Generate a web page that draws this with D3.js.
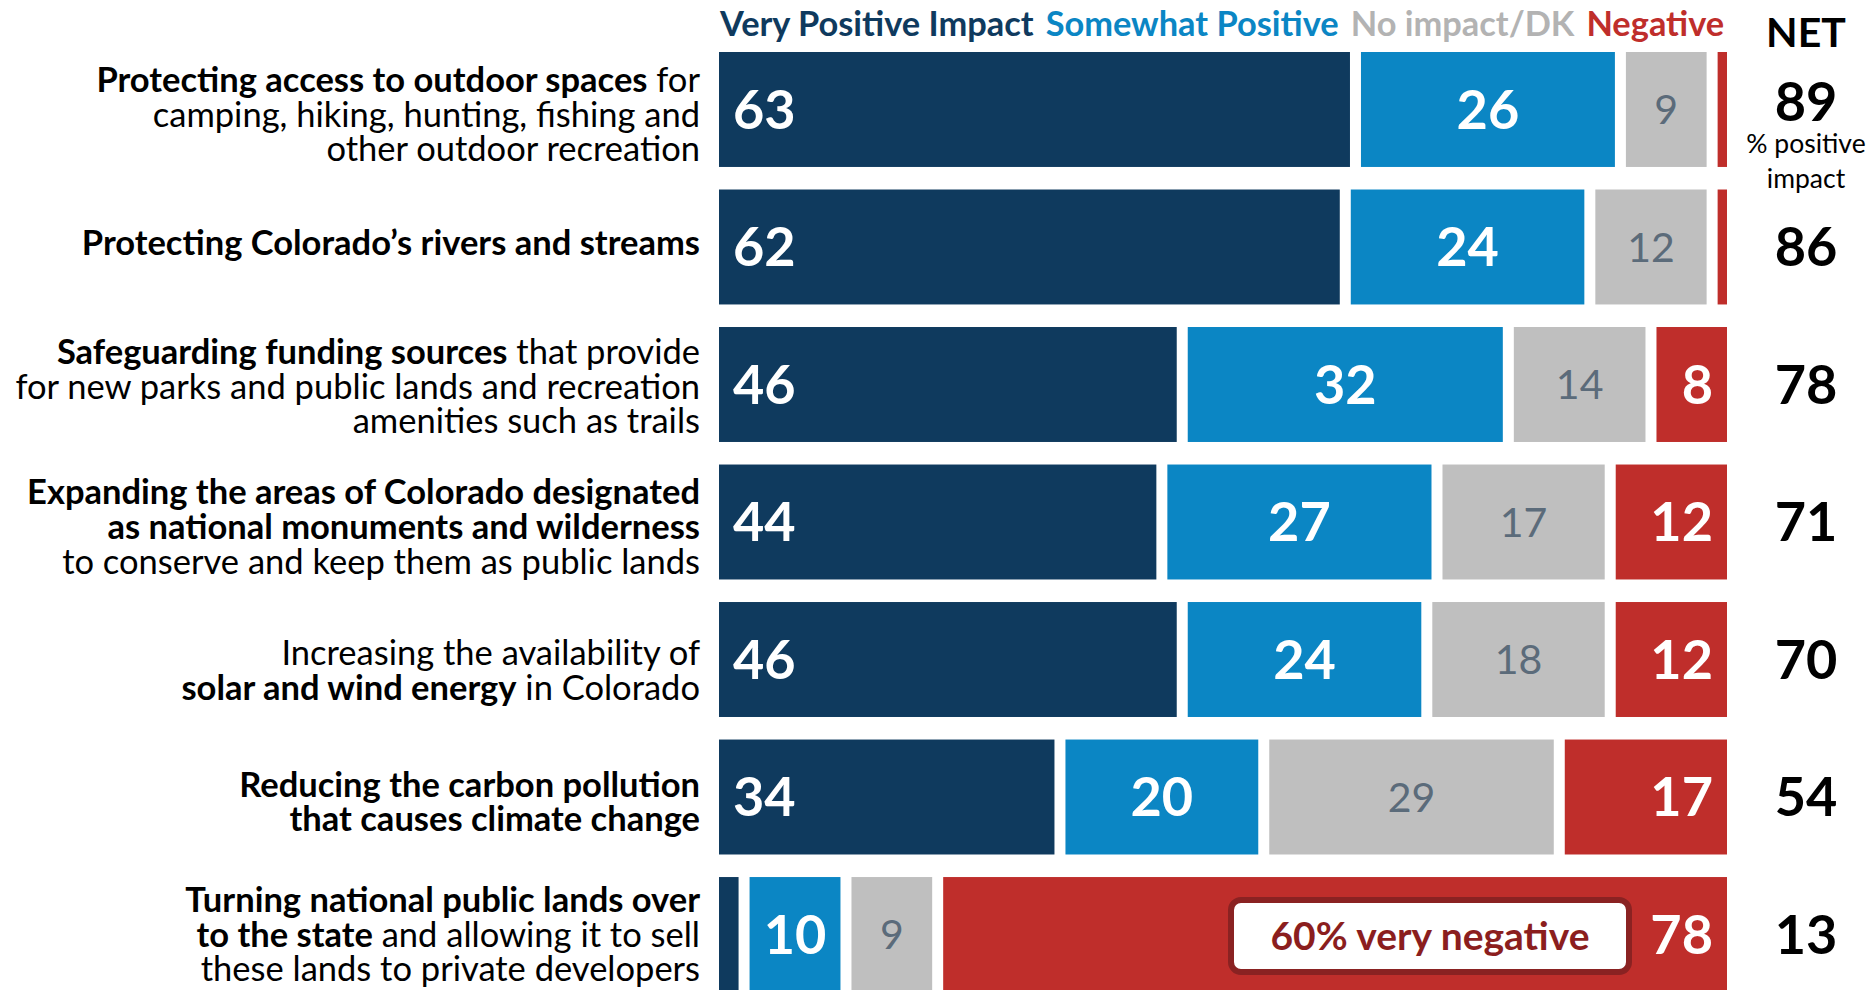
<!DOCTYPE html>
<html lang="en">
<head>
<meta charset="UTF-8">
<title>Colorado public lands – impact</title>
<script src="https://d3js.org/d3.v7.min.js"></script>
<style>
  body { margin: 0; background: #fff; }
  svg { display: block; font-family: Lato, "Open Sans", sans-serif; }
</style>
</head>
<body>
<div id="chart"></div>
<script>
// data
const seriesNames = ["Very Positive Impact", "Somewhat Positive", "No impact/DK", "Negative"];
const seriesColors = ["#0f3a5e", "#0b86c4", "#bfbfbf", "#bf2e2b"];
const legendColors = ["#0f3a5e", "#0b86c4", "#b3b3b3", "#bf2e2b"];

// each category: lines of [text, bold]
const categories = [
  [[["Protecting access to outdoor spaces", true], [" for", false]],
   [["camping, hiking, hunting, fishing and", false]],
   [["other outdoor recreation", false]]],
  [[["Protecting Colorado\u2019s rivers and streams", true]]],
  [[["Safeguarding funding sources", true], [" that provide", false]],
   [["for new parks and public lands and recreation", false]],
   [["amenities such as trails", false]]],
  [[["Expanding the areas of Colorado designated", true]],
   [["as national monuments and wilderness", true]],
   [["to conserve and keep them as public lands", false]]],
  [[["Increasing the availability of", false]],
   [["solar and wind energy", true], [" in Colorado", false]]],
  [[["Reducing the carbon pollution", true]],
   [["that causes climate change", true]]],
  [[["Turning national public lands over", true]],
   [["to the state", true], [" and allowing it to sell", false]],
   [["these lands to private developers", false]]]
];
const veryPositive     = [63, 62, 46, 44, 46, 34, 3];
const somewhatPositive = [26, 24, 32, 27, 24, 20, 10];
const noImpact         = [9, 12, 14, 17, 18, 29, 9];
const negative         = [2, 2, 8, 12, 12, 17, 78];
const netPositive      = [89, 86, 78, 71, 70, 54, 13];
const calloutText = "60% very negative";

const W = 1872, H = 990;
const svg = d3.select("#chart").append("svg")
  .attr("width", W).attr("height", H);

const rows = d3.range(categories.length);
const series = [veryPositive, somewhatPositive, noImpact, negative];

const x = d3.scaleLinear().domain([0, 100]).range([719, 1738]);
const y = d3.scaleBand().domain(rows).range([52, 992]).paddingInner(0.164).paddingOuter(0);
const gap = 11;

// stacked segments
const stacked = rows.map(i => {
  let cum = 0;
  return series.map((s, k) => {
    const seg = { row: i, k, v: s[i], x0: cum };
    cum += s[i];
    return seg;
  });
}).flat();

svg.append("g").selectAll("rect")
  .data(stacked)
  .join("rect")
  .attr("x", d => x(d.x0))
  .attr("y", d => y(d.row))
  .attr("width", d => Math.max(0, x(d.x0 + d.v) - x(d.x0) - gap))
  .attr("height", y.bandwidth())
  .attr("fill", d => seriesColors[d.k]);

// value labels (small segments stay unlabelled)
const labelled = stacked.filter(d => d.v >= 5);
svg.append("g").selectAll("text")
  .data(labelled)
  .join("text")
  .attr("x", d => {
    const a = x(d.x0), b = x(d.x0 + d.v) - gap;
    if (d.k === 0) return a + 14;
    if (d.k === 3) return b - 14;
    return (a + b) / 2;
  })
  .attr("y", d => y(d.row) + y.bandwidth() / 2)
  .attr("dy", "0.36em")
  .attr("text-anchor", d => d.k === 0 ? "start" : d.k === 3 ? "end" : "middle")
  .attr("font-size", d => d.k === 2 ? 41 : 54)
  .attr("font-weight", d => d.k === 2 ? 400 : 700)
  .attr("fill", d => d.k === 2 ? "#5b6b7a" : "#fff")
  .text(d => d.v);

// category labels
const catG = svg.append("g");
const lineH = 34.6;
const labelShift = [5, -4, 2, 5, 11, 5, 0];
categories.forEach((lines, i) => {
  const cy = y(i) + y.bandwidth() / 2 + labelShift[i];
  const top = cy - (lines.length - 1) * lineH / 2;
  lines.forEach((parts, j) => {
    const t = catG.append("text")
      .attr("x", 700)
      .attr("y", top + j * lineH)
      .attr("dy", "0.35em")
      .attr("text-anchor", "end")
      .attr("font-size", 34.5)
      .attr("fill", "#000");
    parts.forEach(([s, b]) => {
      t.append("tspan").attr("font-weight", b ? 700 : 400).text(s);
    });
  });
});

// legend
const legend = svg.append("g");
let lx = 720;
seriesNames.forEach((name, k) => {
  const t = legend.append("text")
    .attr("x", lx).attr("y", 36)
    .attr("font-size", 34.4).attr("font-weight", 700)
    .attr("fill", legendColors[k])
    .text(name);
  lx += t.node().getComputedTextLength() + 12;
});

// NET column
const netX = 1806;
svg.append("text")
  .attr("x", netX).attr("y", 47)
  .attr("text-anchor", "middle")
  .attr("font-size", 41).attr("font-weight", 700)
  .text("NET");

svg.append("g").selectAll("text")
  .data(rows)
  .join("text")
  .attr("x", netX)
  .attr("y", i => y(i) + y.bandwidth() / 2 - (i === 0 ? 8 : 0))
  .attr("dy", "0.36em")
  .attr("text-anchor", "middle")
  .attr("font-size", 54).attr("font-weight", 700)
  .attr("fill", "#000")
  .text(i => netPositive[i]);

["% positive", "impact"].forEach((s, j) => {
  svg.append("text")
    .attr("x", netX).attr("y", 144 + j * 35)
    .attr("dy", "0.35em")
    .attr("text-anchor", "middle")
    .attr("font-size", 26.5)
    .text(s);
});

// callout in last row
const last = rows.length - 1;
const cx = 1430, ccy = y(last) + 59;
const callout = svg.append("g");
callout.append("rect")
  .attr("x", 1231).attr("y", ccy - 36)
  .attr("width", 398).attr("height", 72)
  .attr("rx", 10)
  .attr("fill", "#fff")
  .attr("stroke", "#8a2222").attr("stroke-width", 6);
callout.append("text")
  .attr("x", cx).attr("y", ccy)
  .attr("dy", "0.35em")
  .attr("text-anchor", "middle")
  .attr("font-size", 39).attr("font-weight", 700)
  .attr("fill", "#8b1e1e")
  .text(calloutText);
</script>
</body>
</html>
